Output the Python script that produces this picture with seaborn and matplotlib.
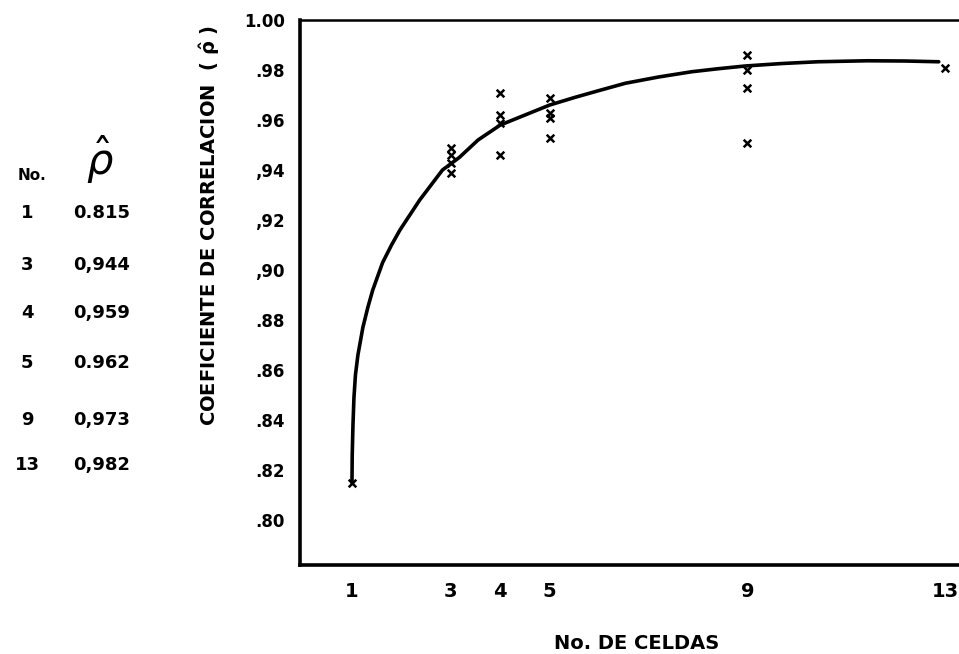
import matplotlib
matplotlib.use("Agg")
import matplotlib.pyplot as plt
import seaborn as sns
import pandas as pd

# individual estimates per number of cells
cells = [1, 3, 3, 3, 3, 4, 4, 4, 4, 5, 5, 5, 5, 9, 9, 9, 9, 13]
rho = [0.815, 0.949, 0.946, 0.943, 0.939,
       0.971, 0.962, 0.959, 0.946,
       0.969, 0.963, 0.961, 0.953,
       0.986, 0.980, 0.973, 0.951,
       0.981]

# hand-drawn curve
curve_x = [1.0, 1.005, 1.02, 1.04, 1.07, 1.12, 1.22, 1.32, 1.42, 1.62, 1.80,
           1.97, 2.17, 2.37, 2.60, 2.83, 3.17, 3.55, 4.0, 4.5, 5.0, 5.5,
           6.0, 6.53, 7.2, 7.87, 8.4, 8.95, 9.7, 10.42, 11.43, 12.2, 12.87]
curve_y = [0.815, 0.826, 0.838, 0.849, 0.858, 0.866, 0.877, 0.885, 0.892,
           0.903, 0.910, 0.916, 0.922, 0.928, 0.934, 0.940, 0.945, 0.952,
           0.958, 0.962, 0.966, 0.969, 0.9718, 0.9747, 0.9772, 0.9793,
           0.9805, 0.9816, 0.9826, 0.9833, 0.9837, 0.9836, 0.9833]

# table on the left
table_no = ["1", "3", "4", "5", "9", "13"]
table_rho = ["0.815", "0,944", "0,959", "0.962", "0,973", "0,982"]

x_ticks = [1, 3, 4, 5, 9, 13]
y_ticks = [0.80, 0.82, 0.84, 0.86, 0.88, 0.90, 0.92, 0.94, 0.96, 0.98, 1.00]
y_labels = [".80", ".82", ".84", ".86", ".88", ",90", ",92", ",94", ".96", ".98", "1.00"]

sns.set_style("white")
plt.rcParams['font.family'] = ['DejaVu Sans']
plt.rcParams['text.color'] = 'black'
plt.rcParams['axes.labelcolor'] = 'black'

fig = plt.figure(figsize=(9.59, 6.54), dpi=100)
ax = fig.add_axes([0.3128, 0.136, 1.0 - 0.3128, 0.9694 - 0.136])

pts = pd.DataFrame({"cells": cells, "rho": rho})
crv = pd.DataFrame({"x": curve_x, "y": curve_y})

sns.lineplot(data=crv, x="x", y="y", sort=False, estimator=None,
             color="black", linewidth=2.6, ax=ax)
sns.scatterplot(data=pts, x="cells", y="rho", marker="x", color="black",
                s=30, linewidth=1.8, ax=ax)

ax.set_xlim(-0.052, 13.28)
ax.set_ylim(0.782, 1.0)
ax.set_xticks(x_ticks)
ax.set_xticklabels([str(t) for t in x_ticks], fontsize=14, fontweight="bold")
ax.set_yticks(y_ticks)
ax.set_yticklabels(y_labels, fontsize=12, fontweight="bold")
ax.tick_params(axis="both", direction="out", length=7, width=2.2, colors="black")
ax.tick_params(axis="x", pad=5)
ax.tick_params(axis="y", pad=4)

for side in ["left", "bottom"]:
    ax.spines[side].set_linewidth(2.6)
    ax.spines[side].set_color("black")
ax.spines["top"].set_linewidth(1.8)
ax.spines["top"].set_color("black")
ax.spines["right"].set_visible(False)

ax.set_xlabel("No. DE CELDAS", fontsize=14, fontweight="bold")
ax.xaxis.set_label_coords((637 - 300) / 659, -(643 - 565) / 545)
ax.xaxis.label.set_va("center")
ax.set_ylabel(r"COEFICIENTE DE CORRELACION  ( $\mathbf{\hat{\rho}}$ )",
              fontsize=14, fontweight="bold")
ax.yaxis.set_label_coords((210 - 300) / 659, (565 - 225) / 545)
ax.yaxis.label.set_va("center")

# left-hand table
fig.text(18 / 959, 1 - 175 / 654, "No.", fontsize=11, fontweight="bold", ha="left", va="center")
fig.text(100 / 959, 1 - 160 / 654, r"$\hat{\rho}$", fontsize=30, ha="center", va="center")
row_y = [213, 265, 313, 363, 420, 465]
for n, r, yy in zip(table_no, table_rho, row_y):
    fig.text(27 / 959, 1 - yy / 654, n, fontsize=13, fontweight="bold", ha="center", va="center")
    fig.text(73 / 959, 1 - yy / 654, r, fontsize=13, fontweight="bold", ha="left", va="center")

fig.savefig("out.png", dpi=100)
